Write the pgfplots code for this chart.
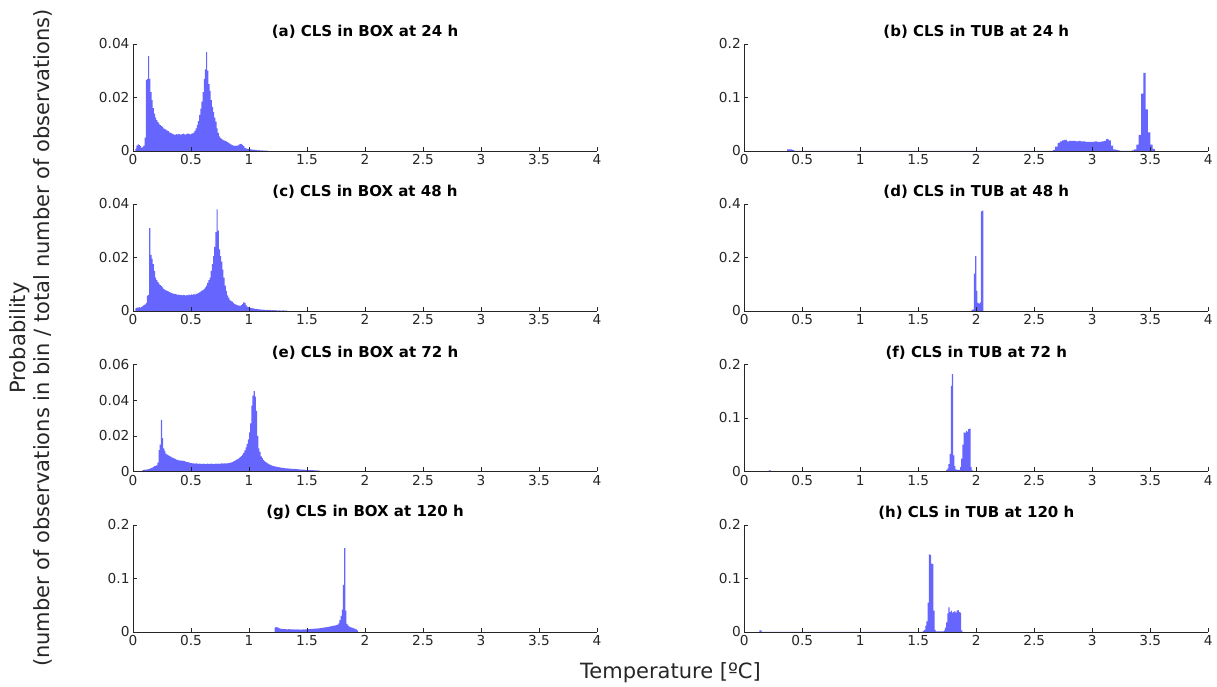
\documentclass[border=0pt]{standalone}
\usepackage{pgfplots}
\pgfplotsset{compat=1.18}
\usepackage{fontspec}
\setmainfont{DejaVu Sans}
\definecolor{histblue}{RGB}{102,102,255}
\definecolor{axgray}{RGB}{38,38,38}
\pgfplotsset{
 hist/.style={
  scale only axis, width=464pt, height=107pt,
  anchor=south west,
  xmin=0, xmax=4, ymin=0,
  axis x line*=bottom, axis y line*=left,
  x axis line style={-}, y axis line style={-},
  axis line style={axgray, line width=0.6pt},
  axis on top,
  tick align=inside, major tick length=4pt,
  xtick={0,0.5,1,1.5,2,2.5,3,3.5,4},
  xticklabels={0,0.5,1,1.5,2,2.5,3,3.5,4},
  scaled y ticks=false,
  tick style={axgray, line width=0.6pt},
  ticklabel style={font=\fontsize{13.7}{16}\selectfont, text=axgray},
  /pgf/number format/assume math mode=true,
  title style={font=\bfseries\fontsize{15}{18}\selectfont, at={(0.5,1)}, anchor=south, inner sep=4pt, yshift=-5pt},
 },
 bars/.style={const plot mark left, fill=histblue, draw=none},
}
\begin{document}
\begin{tikzpicture}[x=1pt,y=1pt]
\useasboundingbox (0,0) rectangle (1217,687);

% (a)
\begin{axis}[hist, at={(133pt,536pt)}, ymax=0.04, ytick={0,0.02,0.04}, yticklabels={0,0.02,0.04}, title={(a) CLS in BOX at 24 h}]
\addplot[bars] coordinates {(0.02,0.0008)(0.03,0.0020)(0.04,0.0025)(0.05,0.0022)(0.06,0.0018)(0.07,0.0012)(0.08,0.0015)(0.09,0.0020)(0.10,0.0050)(0.11,0.0265)(0.12,0.0270)(0.13,0.0355)(0.14,0.0270)(0.15,0.0220)(0.16,0.0190)(0.17,0.0160)(0.18,0.0140)(0.19,0.0125)(0.20,0.0115)(0.21,0.0108)(0.22,0.0102)(0.23,0.0097)(0.24,0.0093)(0.25,0.0090)(0.26,0.0085)(0.27,0.0082)(0.28,0.0080)(0.29,0.0076)(0.30,0.0074)(0.31,0.0070)(0.32,0.0068)(0.33,0.0066)(0.34,0.0063)(0.35,0.0061)(0.36,0.0060)(0.37,0.0063)(0.38,0.0061)(0.39,0.0064)(0.40,0.0062)(0.41,0.0060)(0.42,0.0063)(0.43,0.0065)(0.44,0.0062)(0.45,0.0061)(0.46,0.0064)(0.47,0.0066)(0.48,0.0063)(0.49,0.0062)(0.50,0.0065)(0.51,0.0066)(0.52,0.0069)(0.53,0.0075)(0.54,0.0085)(0.55,0.0098)(0.56,0.0112)(0.57,0.0135)(0.58,0.0158)(0.59,0.0185)(0.60,0.0220)(0.61,0.0270)(0.62,0.0305)(0.63,0.0370)(0.64,0.0300)(0.65,0.0250)(0.66,0.0225)(0.67,0.0190)(0.68,0.0165)(0.69,0.0145)(0.70,0.0125)(0.71,0.0110)(0.72,0.0085)(0.73,0.0068)(0.74,0.0055)(0.75,0.0048)(0.76,0.0045)(0.77,0.0042)(0.78,0.0040)(0.79,0.0038)(0.80,0.0036)(0.81,0.0033)(0.82,0.0030)(0.83,0.0028)(0.84,0.0025)(0.85,0.0022)(0.86,0.0020)(0.87,0.0019)(0.88,0.0020)(0.89,0.0019)(0.90,0.0021)(0.91,0.0024)(0.92,0.0026)(0.93,0.0027)(0.94,0.0022)(0.95,0.0018)(0.96,0.0012)(0.97,0.0010)(0.98,0.0008)(0.99,0.0008)(1.00,0.0007)(1.01,0.0006)(1.02,0.0006)(1.03,0.0004)(1.04,0.0005)(1.05,0.0003)(1.06,0.0004)(1.07,0.0002)(1.08,0.0003)(1.09,0.0002)(1.10,0.0001)(1.11,0.0002)(1.12,0.0001)(1.13,0.0001)(1.14,0.0001)(1.15,0.0001)(1.16,0)} \closedcycle;
\end{axis}

% (b)
\begin{axis}[hist, at={(744.3pt,536pt)}, ymax=0.2, ytick={0,0.1,0.2}, yticklabels={0,0.1,0.2}, title={(b) CLS in TUB at 24 h}]
\addplot[bars] coordinates {(0.37,0.003)(0.39,0.003)(0.41,0.002)(0.43,0)(2.66,0.002)(2.68,0.008)(2.70,0.015)(2.72,0.018)(2.74,0.020)(2.76,0.021)(2.78,0.018)(2.80,0.019)(2.82,0.019)(2.84,0.019)(2.86,0.018)(2.88,0.019)(2.90,0.018)(2.92,0.018)(2.94,0.017)(2.96,0.017)(2.98,0.017)(3.00,0.017)(3.02,0.018)(3.04,0.017)(3.06,0.017)(3.08,0.018)(3.10,0.019)(3.12,0.022)(3.14,0.020)(3.16,0.010)(3.18,0.003)(3.20,0.002)(3.22,0.001)(3.24,0)(3.34,0.001)(3.36,0.003)(3.38,0.012)(3.40,0.030)(3.42,0.107)(3.44,0.146)(3.46,0.078)(3.48,0.035)(3.50,0.012)(3.52,0.004)(3.54,0)} \closedcycle;
\end{axis}

% (c)
\begin{axis}[hist, at={(133pt,376pt)}, ymax=0.04, ytick={0,0.02,0.04}, yticklabels={0,0.02,0.04}, title={(c) CLS in BOX at 48 h}]
\addplot[bars] coordinates {(0.02,0.0010)(0.03,0.0013)(0.04,0.0013)(0.05,0.0014)(0.06,0.0013)(0.07,0.0015)(0.08,0.0018)(0.09,0.0022)(0.10,0.0025)(0.11,0.0030)(0.12,0.0057)(0.13,0.0060)(0.14,0.0310)(0.15,0.0210)(0.16,0.0195)(0.17,0.0175)(0.18,0.0150)(0.19,0.0125)(0.20,0.0115)(0.21,0.0108)(0.22,0.0102)(0.23,0.0097)(0.24,0.0093)(0.25,0.0088)(0.26,0.0083)(0.27,0.0080)(0.28,0.0077)(0.29,0.0075)(0.30,0.0073)(0.31,0.0071)(0.32,0.0069)(0.33,0.0067)(0.34,0.0065)(0.35,0.0064)(0.36,0.0063)(0.37,0.0062)(0.38,0.0060)(0.39,0.0061)(0.40,0.0059)(0.41,0.0060)(0.42,0.0058)(0.43,0.0060)(0.44,0.0059)(0.45,0.0057)(0.46,0.0060)(0.47,0.0058)(0.48,0.0061)(0.49,0.0059)(0.50,0.0062)(0.51,0.0060)(0.52,0.0063)(0.53,0.0061)(0.54,0.0064)(0.55,0.0065)(0.56,0.0068)(0.57,0.0070)(0.58,0.0073)(0.59,0.0076)(0.60,0.0079)(0.61,0.0083)(0.62,0.0088)(0.63,0.0095)(0.64,0.0105)(0.65,0.0115)(0.66,0.0125)(0.67,0.0150)(0.68,0.0175)(0.69,0.0205)(0.70,0.0240)(0.71,0.0295)(0.72,0.0380)(0.73,0.0300)(0.74,0.0230)(0.75,0.0205)(0.76,0.0185)(0.77,0.0155)(0.78,0.0125)(0.79,0.0095)(0.80,0.0075)(0.81,0.0058)(0.82,0.0050)(0.83,0.0042)(0.84,0.0038)(0.85,0.0035)(0.86,0.0030)(0.87,0.0027)(0.88,0.0025)(0.89,0.0023)(0.90,0.0021)(0.91,0.0020)(0.92,0.0019)(0.93,0.0022)(0.94,0.0026)(0.95,0.0032)(0.96,0.0030)(0.97,0.0022)(0.98,0.0016)(0.99,0.0014)(1.00,0.0013)(1.01,0.0012)(1.02,0.0011)(1.03,0.0010)(1.04,0.0009)(1.05,0.0008)(1.06,0.0008)(1.07,0.0007)(1.08,0.0006)(1.09,0.0006)(1.10,0.0005)(1.11,0.0004)(1.12,0.0005)(1.13,0.0004)(1.14,0.0003)(1.15,0.0004)(1.16,0.0003)(1.17,0.0003)(1.18,0.0004)(1.19,0.0002)(1.20,0.0003)(1.21,0.0002)(1.22,0.0003)(1.23,0.0002)(1.24,0.0001)(1.25,0.0002)(1.26,0.0002)(1.27,0.0001)(1.28,0.0001)(1.29,0.0002)(1.30,0.0001)(1.31,0.0001)(1.32,0.0001)(1.33,0)} \closedcycle;
\end{axis}

% (d)
\begin{axis}[hist, at={(744.3pt,376pt)}, ymax=0.4, ytick={0,0.2,0.4}, yticklabels={0,0.2,0.4}, title={(d) CLS in TUB at 48 h}]
\addplot[bars] coordinates {(1.96,0.004)(1.97,0.006)(1.98,0.140)(1.99,0.205)(2.00,0.075)(2.01,0.030)(2.02,0.028)(2.03,0.032)(2.04,0.372)(2.05,0.375)(2.06,0)} \closedcycle;
\end{axis}

% (e)
\begin{axis}[hist, at={(133pt,215.5pt)}, ymax=0.06, ytick={0,0.02,0.04,0.06}, yticklabels={0,0.02,0.04,0.06}, title={(e) CLS in BOX at 72 h}]
\addplot[bars] coordinates {(0.08,0.0008)(0.09,0.0009)(0.10,0.0010)(0.11,0.0011)(0.12,0.0012)(0.13,0.0013)(0.14,0.0015)(0.15,0.0019)(0.16,0.0020)(0.17,0.0025)(0.18,0.0030)(0.19,0.0032)(0.20,0.0035)(0.21,0.0050)(0.22,0.0120)(0.23,0.0150)(0.24,0.0290)(0.25,0.0187)(0.26,0.0130)(0.27,0.0115)(0.28,0.0100)(0.29,0.0095)(0.30,0.0090)(0.31,0.0087)(0.32,0.0083)(0.33,0.0079)(0.34,0.0076)(0.35,0.0073)(0.36,0.0070)(0.37,0.0067)(0.38,0.0065)(0.39,0.0063)(0.40,0.0062)(0.41,0.0060)(0.42,0.0061)(0.43,0.0059)(0.44,0.0058)(0.45,0.0056)(0.46,0.0053)(0.47,0.0052)(0.48,0.0050)(0.49,0.0048)(0.50,0.0047)(0.51,0.0046)(0.52,0.0045)(0.53,0.0044)(0.54,0.0045)(0.55,0.0044)(0.56,0.0043)(0.57,0.0044)(0.58,0.0043)(0.59,0.0042)(0.60,0.0044)(0.61,0.0043)(0.62,0.0042)(0.63,0.0043)(0.64,0.0044)(0.65,0.0042)(0.66,0.0043)(0.67,0.0044)(0.68,0.0043)(0.69,0.0042)(0.70,0.0043)(0.71,0.0044)(0.72,0.0043)(0.73,0.0044)(0.74,0.0043)(0.75,0.0044)(0.76,0.0045)(0.77,0.0044)(0.78,0.0045)(0.79,0.0046)(0.80,0.0045)(0.81,0.0046)(0.82,0.0047)(0.83,0.0048)(0.84,0.0050)(0.85,0.0052)(0.86,0.0055)(0.87,0.0060)(0.88,0.0062)(0.89,0.0066)(0.90,0.0070)(0.91,0.0075)(0.92,0.0080)(0.93,0.0086)(0.94,0.0095)(0.95,0.0105)(0.96,0.0118)(0.97,0.0135)(0.98,0.0155)(0.99,0.0180)(1.00,0.0220)(1.01,0.0270)(1.02,0.0370)(1.03,0.0425)(1.04,0.0450)(1.05,0.0420)(1.06,0.0340)(1.07,0.0200)(1.08,0.0130)(1.09,0.0110)(1.10,0.0085)(1.11,0.0075)(1.12,0.0065)(1.13,0.0058)(1.14,0.0053)(1.15,0.0048)(1.16,0.0044)(1.17,0.0040)(1.18,0.0037)(1.19,0.0035)(1.20,0.0032)(1.21,0.0030)(1.22,0.0028)(1.23,0.0027)(1.24,0.0025)(1.25,0.0024)(1.26,0.0023)(1.27,0.0022)(1.28,0.0021)(1.29,0.0020)(1.30,0.0019)(1.31,0.0018)(1.32,0.0017)(1.33,0.0017)(1.34,0.0016)(1.35,0.0016)(1.36,0.0015)(1.37,0.0015)(1.38,0.0014)(1.39,0.0014)(1.40,0.0013)(1.41,0.0013)(1.42,0.0012)(1.43,0.0012)(1.44,0.0011)(1.45,0.0011)(1.46,0.0010)(1.47,0.0010)(1.48,0.0009)(1.49,0.0009)(1.50,0.0009)(1.51,0.0008)(1.52,0.0008)(1.53,0.0007)(1.54,0.0007)(1.55,0.0007)(1.56,0.0006)(1.57,0.0006)(1.58,0.0006)(1.59,0.0005)(1.60,0.0005)(1.61,0)} \closedcycle;
\end{axis}

% (f)
\begin{axis}[hist, at={(744.3pt,215.5pt)}, ymax=0.2, ytick={0,0.1,0.2}, yticklabels={0,0.1,0.2}, title={(f) CLS in TUB at 72 h}]
\addplot[bars] coordinates {(0.21,0.002)(0.23,0)(1.74,0.003)(1.75,0.006)(1.76,0.014)(1.77,0.033)(1.78,0.160)(1.79,0.182)(1.80,0.030)(1.81,0.010)(1.82,0.004)(1.83,0.003)(1.84,0.003)(1.85,0.003)(1.86,0.008)(1.87,0.024)(1.88,0.050)(1.89,0.073)(1.90,0.072)(1.91,0.076)(1.92,0.074)(1.93,0.079)(1.94,0.080)(1.95,0.008)(1.96,0.002)(1.97,0)} \closedcycle;
\end{axis}

% (g)
\begin{axis}[hist, at={(133pt,55pt)}, ymax=0.2, ytick={0,0.1,0.2}, yticklabels={0,0.1,0.2}, title={(g) CLS in BOX at 120 h}]
\addplot[bars] coordinates {(1.22,0.0080)(1.23,0.0090)(1.24,0.0085)(1.25,0.0075)(1.26,0.0070)(1.27,0.0060)(1.28,0.0058)(1.29,0.0055)(1.30,0.0055)(1.31,0.0052)(1.32,0.0050)(1.33,0.0048)(1.34,0.0052)(1.35,0.0050)(1.36,0.0047)(1.37,0.0049)(1.38,0.0051)(1.39,0.0046)(1.40,0.0048)(1.41,0.0045)(1.42,0.0047)(1.43,0.0044)(1.44,0.0046)(1.45,0.0045)(1.46,0.0047)(1.47,0.0046)(1.48,0.0048)(1.49,0.0050)(1.50,0.0052)(1.51,0.0055)(1.52,0.0056)(1.53,0.0058)(1.54,0.0058)(1.55,0.0060)(1.56,0.0062)(1.57,0.0063)(1.58,0.0065)(1.59,0.0066)(1.60,0.0068)(1.61,0.0072)(1.62,0.0075)(1.63,0.0078)(1.64,0.0080)(1.65,0.0085)(1.66,0.0088)(1.67,0.0092)(1.68,0.0095)(1.69,0.0100)(1.70,0.0105)(1.71,0.0110)(1.72,0.0115)(1.73,0.0120)(1.74,0.0125)(1.75,0.0130)(1.76,0.0140)(1.77,0.0160)(1.78,0.0220)(1.79,0.0300)(1.80,0.0420)(1.81,0.0880)(1.82,0.1570)(1.83,0.0400)(1.84,0.0150)(1.85,0.0120)(1.86,0.0100)(1.87,0.0090)(1.88,0.0080)(1.89,0.0075)(1.90,0.0070)(1.91,0.0060)(1.92,0.0050)(1.93,0.0030)(1.94,0)} \closedcycle;
\end{axis}

% (h)
\begin{axis}[hist, at={(744.3pt,55pt)}, ymax=0.2, ytick={0,0.1,0.2}, yticklabels={0,0.1,0.2}, title={(h) CLS in TUB at 120 h}]
\addplot[bars] coordinates {(0.13,0.003)(0.15,0)(1.54,0.002)(1.55,0.004)(1.56,0.012)(1.57,0.020)(1.58,0.055)(1.59,0.145)(1.60,0.144)(1.61,0.128)(1.62,0.127)(1.63,0.040)(1.64,0.004)(1.65,0.001)(1.66,0.001)(1.67,0.001)(1.68,0.001)(1.69,0.001)(1.70,0.001)(1.71,0.001)(1.72,0.003)(1.73,0.008)(1.74,0.018)(1.75,0.035)(1.76,0.046)(1.77,0.037)(1.78,0.040)(1.79,0.036)(1.80,0.037)(1.81,0.039)(1.82,0.036)(1.83,0.040)(1.84,0.041)(1.85,0.037)(1.86,0.036)(1.87,0.003)(1.88,0)} \closedcycle;
\end{axis}

\node[rotate=90, text=axgray, font=\fontsize{21}{25}\selectfont] at (20,349) {Probability};
\node[rotate=90, text=axgray, font=\fontsize{21}{25}\selectfont] at (43,349) {(number of observations in bin / total number of observations)};
\node[text=axgray, font=\fontsize{21}{25}\selectfont] at (670.5,14) {Temperature [ºC]};
\end{tikzpicture}
\end{document}
